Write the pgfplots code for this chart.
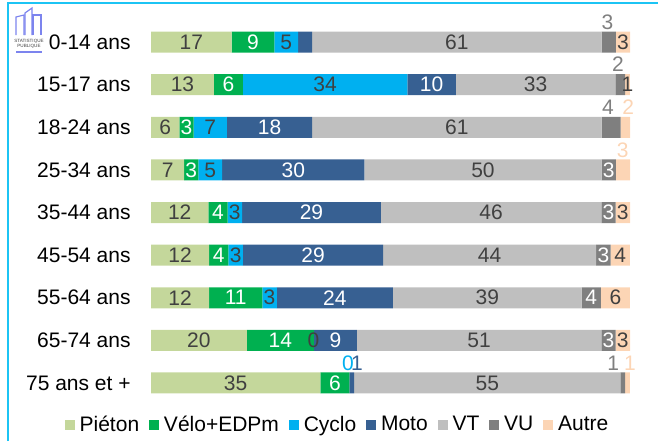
\documentclass[border=0pt]{standalone}
\usepackage{pgfplots}
\pgfplotsset{compat=1.18}
\usepackage{pgfplotstable}
\usepackage{fontspec}
\setmainfont{Liberation Sans}
\definecolor{cPie}{HTML}{C4D79B}
\definecolor{cVelo}{HTML}{00B050}
\definecolor{cCyc}{HTML}{00B0F0}
\definecolor{cMoto}{HTML}{376092}
\definecolor{cVT}{HTML}{BFBFBF}
\definecolor{cVU}{HTML}{7F7F7F}
\definecolor{cAut}{HTML}{FCD5B5}
\definecolor{cLab}{HTML}{404040}
\definecolor{cFrame}{HTML}{1CC4F4}
\definecolor{cLogo}{HTML}{7C84EE}

% rows: y=8 is 0-14 ans ... y=0 is 75 ans et +
\pgfplotstableread{
y p v c cl m ml vt vu vul a al t
8 17 9 5 5 3 {} 61 3 {} 3 3 101
7 13 6 34 34 10 10 33 2 {} 1 1 99
6 6 3 7 7 18 18 61 4 {} 2 {} 101
5 7 3 5 5 30 30 50 3 3 3 {} 101
4 12 4 3 3 29 29 46 3 3 3 3 100
3 12 4 3 3 29 29 44 3 3 4 4 99
2 12 11 3 3 24 24 39 4 4 6 6 99
1 20 14 0 {} 9 9 51 3 3 3 3 100
0 35 6 0 {} 1 {} 55 1 {} 1 {} 99
}\data

\begin{document}
\fontsize{10.5}{12}\selectfont
\begin{tikzpicture}
\pgfplotsset{
  mygeom/.style={
    scale only axis, width=239.5pt, height=191.8pt,
    at={(75.5pt,18.35pt)}, anchor=south west,
    xmin=0, xmax=100, ymin=-0.5, ymax=8.5,
  }
}
\begin{axis}[mygeom,
  xbar stacked, bar width=10.5pt,
  axis line style={draw=none}, tick style={draw=none},
  major tick length=0pt,
  xtick=\empty,
  ytick={0,...,8},
  yticklabels={75 ans et +,65-74 ans,55-64 ans,45-54 ans,35-44 ans,25-34 ans,18-24 ans,15-17 ans,0-14 ans},
  yticklabel style={font=\fontsize{10.5}{12}\selectfont, inner sep=0pt, xshift=-10pt, text=black},
  nodes near coords,
  point meta=explicit symbolic,
  every node near coord/.append style={font=\fontsize{10.5}{12}\selectfont, inner sep=0pt},
  legend columns=-1,
  legend style={draw=none, fill=none, at={(0.3925,-0.054)}, anchor=center,
    font=\fontsize{10.5}{12}\selectfont, inner xsep=0pt, inner ysep=0pt,
    /tikz/every even column/.append style={column sep=2.4pt},
    nodes={inner xsep=2.5pt, inner ysep=0pt}},
  legend image code/.code={\path[#1,draw=none] (0pt,-2.5pt) rectangle (5pt,2.5pt);},
]
\addplot[fill=cPie, draw=none, every node near coord/.append style={text=cLab}]
  table[x expr=\thisrow{p}*100/\thisrow{t}, y=y, meta=p] {\data};
\addplot[fill=cVelo, draw=none, every node near coord/.append style={text=white}]
  table[x expr=\thisrow{v}*100/\thisrow{t}, y=y, meta=v] {\data};
\addplot[fill=cCyc, draw=none, every node near coord/.append style={text=cLab}]
  table[x expr=\thisrow{c}*100/\thisrow{t}, y=y, meta=cl] {\data};
\addplot[fill=cMoto, draw=none, every node near coord/.append style={text=white}]
  table[x expr=\thisrow{m}*100/\thisrow{t}, y=y, meta=ml] {\data};
\addplot[fill=cVT, draw=none, every node near coord/.append style={text=cLab}]
  table[x expr=\thisrow{vt}*100/\thisrow{t}, y=y, meta=vt] {\data};
\addplot[fill=cVU, draw=none, every node near coord/.append style={text=white}]
  table[x expr=\thisrow{vu}*100/\thisrow{t}, y=y, meta=vul] {\data};
\addplot[fill=cAut, draw=none, every node near coord/.append style={text=cLab}]
  table[x expr=\thisrow{a}*100/\thisrow{t}, y=y, meta=al] {\data};
\legend{Piéton,Vélo+EDPm,Cyclo,Moto,VT,VU,Autre}
\end{axis}
\begin{axis}[mygeom, hide axis, clip=false]
\addplot[draw=none, mark=none, nodes near coords, point meta=explicit symbolic,
  nodes near coords align=center,
  every node near coord/.append style={font=\fontsize{10.5}{12}\selectfont, inner sep=0pt, text=cVU}]
  coordinates {(95.3,8.47)[3] (97.5,7.47)[2] (95.4,6.47)[4] (96.5,0.47)[1]};
\addplot[draw=none, mark=none, nodes near coords, point meta=explicit symbolic,
  nodes near coords align=center,
  every node near coord/.append style={font=\fontsize{10.5}{12}\selectfont, inner sep=0pt, text=cAut}]
  coordinates {(99.6,6.47)[2] (98.5,5.47)[3] (100,0.47)[1]};
\addplot[draw=none, mark=none, nodes near coords, point meta=explicit symbolic,
  nodes near coords align=center,
  every node near coord/.append style={font=\fontsize{10.5}{12}\selectfont, inner sep=0pt, text=cCyc}]
  coordinates {(41.1,0.47)[0]};
\addplot[draw=none, mark=none, nodes near coords, point meta=explicit symbolic,
  nodes near coords align=center,
  every node near coord/.append style={font=\fontsize{10.5}{12}\selectfont, inner sep=0pt, text=cMoto}]
  coordinates {(43.0,0.47)[1]};
\addplot[draw=none, mark=none, nodes near coords, point meta=explicit symbolic,
  nodes near coords align=center,
  every node near coord/.append style={font=\fontsize{10.5}{12}\selectfont, inner sep=0pt, text=cLab}]
  coordinates {(33.9,1)[0]};
\end{axis}
% frame
\draw[cFrame, line width=1pt] (4pt,0pt) -- (4pt,219pt) -- (330pt,219pt);
% logo
\begin{scope}[cLogo, line width=0.6pt]
\draw (8pt,203pt) -- (8pt,212pt) -- (12pt,213pt) -- (12pt,203pt);
\draw (12.5pt,203pt) -- (12.5pt,214pt) -- (16pt,216.5pt) -- (16pt,203pt);
\draw (16.5pt,203pt) -- (16.5pt,213pt) -- (20.5pt,213pt) -- (20.5pt,203pt);
\draw (8pt,194.5pt) -- (21pt,194.5pt);
\end{scope}
\node[font=\fontsize{2.3}{2.6}\selectfont, text=cLab, inner sep=0pt, align=center] at (14.5pt,198.5pt) {STATISTIQUE\\PUBLIQUE};
\pgfresetboundingbox
\path[use as bounding box] (0,0) rectangle (329pt,220.5pt);
\end{tikzpicture}
\end{document}
